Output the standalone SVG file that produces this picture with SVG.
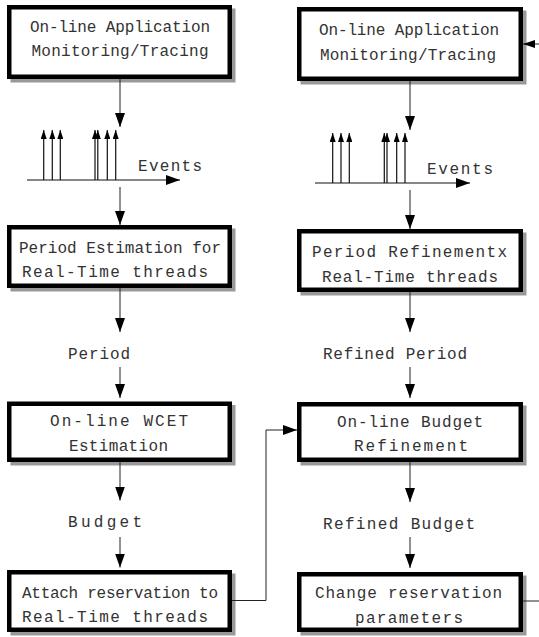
<svg xmlns="http://www.w3.org/2000/svg" width="539" height="637" viewBox="0 0 539 637">
<style>
.shadow{fill:#999;stroke:none}
.box{fill:#fff;stroke:#000;stroke-width:4.5}
.t{font-family:"Liberation Mono","DejaVu Sans Mono",monospace;font-size:16px;fill:#333;text-anchor:middle}
.lbl{font-family:"Liberation Mono","DejaVu Sans Mono",monospace;font-size:16px;fill:#333;text-anchor:start}
.c{fill:none;stroke:#222;stroke-width:1}
.ev{fill:none;stroke:#111;stroke-width:1.2}
</style>
<defs>
<marker id="ah" markerUnits="userSpaceOnUse" markerWidth="14" markerHeight="10" refX="14" refY="5" orient="auto">
<path d="M0,0 L14,5 L0,10 z" fill="#000"/>
</marker>
<marker id="ahs" markerUnits="userSpaceOnUse" markerWidth="12" markerHeight="8" refX="12" refY="4" orient="auto">
<path d="M0,0 L12,4 L0,8 z" fill="#000"/>
</marker>
<marker id="sm" markerUnits="userSpaceOnUse" markerWidth="9" markerHeight="6" refX="9" refY="3" orient="auto">
<path d="M0,0 L9,3 L0,6 z" fill="#000"/>
</marker>
</defs>

<g id="L1">
<rect class="shadow" x="10.5" y="8.5" width="225" height="74"/>
<rect class="box" x="9.25" y="7.25" width="220.5" height="69.5"/>
<text class="t" x="120" y="32" textLength="180" lengthAdjust="spacing">On-line Application</text>
<text class="t" x="120" y="56" textLength="177" lengthAdjust="spacing">Monitoring/Tracing</text>
</g>

<g id="L2">
<rect class="shadow" x="10.5" y="228.5" width="225" height="63"/>
<rect class="box" x="9.25" y="227.25" width="220.5" height="58.5"/>
<text class="t" x="120" y="252.5" textLength="202" lengthAdjust="spacing">Period Estimation for</text>
<text class="t" x="115" y="277" textLength="186" lengthAdjust="spacing">Real-Time threads</text>
</g>

<g id="L3">
<rect class="shadow" x="10.5" y="405" width="225" height="60.5"/>
<rect class="box" x="9.25" y="403.75" width="220.5" height="56"/>
<text class="t" x="119" y="426" textLength="138" lengthAdjust="spacing">On-line WCET</text>
<text class="t" x="118.5" y="450.5" textLength="99" lengthAdjust="spacing">Estimation</text>
</g>

<g id="L4">
<rect class="shadow" x="10.5" y="573.5" width="225" height="62"/>
<rect class="box" x="9.25" y="572.25" width="220.5" height="57.5"/>
<text class="t" x="120" y="598" textLength="196" lengthAdjust="spacing">Attach reservation to</text>
<text class="t" x="115" y="621.5" textLength="186" lengthAdjust="spacing">Real-Time threads</text>
</g>

<g id="R1">
<rect class="shadow" x="300.5" y="10.5" width="226" height="74"/>
<rect class="box" x="299.25" y="9.25" width="221.5" height="69.5"/>
<text class="t" x="409" y="35" textLength="180" lengthAdjust="spacing">On-line Application</text>
<text class="t" x="408" y="59.5" textLength="176" lengthAdjust="spacing">Monitoring/Tracing</text>
</g>

<g id="R2">
<rect class="shadow" x="300.5" y="232.5" width="226" height="63"/>
<rect class="box" x="299.25" y="231.25" width="221.5" height="58.5"/>
<text class="t" x="409.5" y="257" textLength="195" lengthAdjust="spacing">Period Refinementx</text>
<text class="t" x="410" y="281.5" textLength="176" lengthAdjust="spacing">Real-Time threads</text>
</g>

<g id="R3">
<rect class="shadow" x="300.5" y="405.5" width="226" height="60"/>
<rect class="box" x="299.25" y="404.25" width="221.5" height="55.5"/>
<text class="t" x="410" y="427" textLength="146" lengthAdjust="spacing">On-line Budget</text>
<text class="t" x="411" y="450.5" textLength="114" lengthAdjust="spacing">Refinement</text>
</g>

<g id="R4">
<rect class="shadow" x="300.5" y="575.5" width="226" height="60"/>
<rect class="box" x="299.25" y="574.25" width="221.5" height="55.5"/>
<text class="t" x="408.5" y="598" textLength="187" lengthAdjust="spacing">Change reservation</text>
<text class="t" x="409" y="622.5" textLength="108" lengthAdjust="spacing">parameters</text>
</g>

<g id="eventsL">
<path class="ev" d="M27,180 H180" marker-end="url(#ah)"/>
<path class="ev" d="M43.7,180 V130" marker-end="url(#sm)"/>
<path class="ev" d="M52.3,180 V130" marker-end="url(#sm)"/>
<path class="ev" d="M60.3,180 V130" marker-end="url(#sm)"/>
<path class="ev" d="M95,180 V130" marker-end="url(#sm)"/>
<path class="ev" d="M97.8,180 V130" marker-end="url(#sm)"/>
<path class="ev" d="M107.3,180 V130" marker-end="url(#sm)"/>
<path class="ev" d="M115.7,180 V130" marker-end="url(#sm)"/>
<text class="lbl" x="138" y="171" textLength="64" lengthAdjust="spacing">Events</text>
</g>

<g id="eventsR">
<path class="ev" d="M315,183 H470" marker-end="url(#ah)"/>
<path class="ev" d="M332.7,183 V133" marker-end="url(#sm)"/>
<path class="ev" d="M341,183 V133" marker-end="url(#sm)"/>
<path class="ev" d="M349.3,183 V133" marker-end="url(#sm)"/>
<path class="ev" d="M384.3,183 V133" marker-end="url(#sm)"/>
<path class="ev" d="M387,183 V133" marker-end="url(#sm)"/>
<path class="ev" d="M396.7,183 V133" marker-end="url(#sm)"/>
<path class="ev" d="M405,183 V133" marker-end="url(#sm)"/>
<text class="lbl" x="427" y="174" textLength="66" lengthAdjust="spacing">Events</text>
</g>

<g id="labels">
<text class="lbl" x="68" y="358.5" textLength="62" lengthAdjust="spacing">Period</text>
<text class="lbl" x="68" y="526.5" textLength="74" lengthAdjust="spacing">Budget</text>
<text class="lbl" x="323" y="359" textLength="144" lengthAdjust="spacing">Refined Period</text>
<text class="lbl" x="323" y="529" textLength="152" lengthAdjust="spacing">Refined Budget</text>
</g>

<g id="connectors">
<path class="c" d="M120,79 V127" marker-end="url(#ah)"/>
<path class="c" d="M120,187 V225" marker-end="url(#ah)"/>
<path class="c" d="M120,288 V332" marker-end="url(#ah)"/>
<path class="c" d="M120,367 V398" marker-end="url(#ah)"/>
<path class="c" d="M120,462 V500.5" marker-end="url(#ah)"/>
<path class="c" d="M120,537 V567.5" marker-end="url(#ah)"/>
<path class="c" d="M410,81 V130" marker-end="url(#ah)"/>
<path class="c" d="M410,190 V229" marker-end="url(#ah)"/>
<path class="c" d="M410,292 V332" marker-end="url(#ah)"/>
<path class="c" d="M410,367 V398" marker-end="url(#ah)"/>
<path class="c" d="M410,462 V502" marker-end="url(#ah)"/>
<path class="c" d="M410,537 V568" marker-end="url(#ah)"/>
<path class="c" d="M232,600.5 H266 V430 H297" marker-end="url(#ah)"/>
<path class="c" d="M523,601 H539"/>
<path class="c" d="M539,44 H523" marker-end="url(#ahs)"/>
</g>
</svg>
